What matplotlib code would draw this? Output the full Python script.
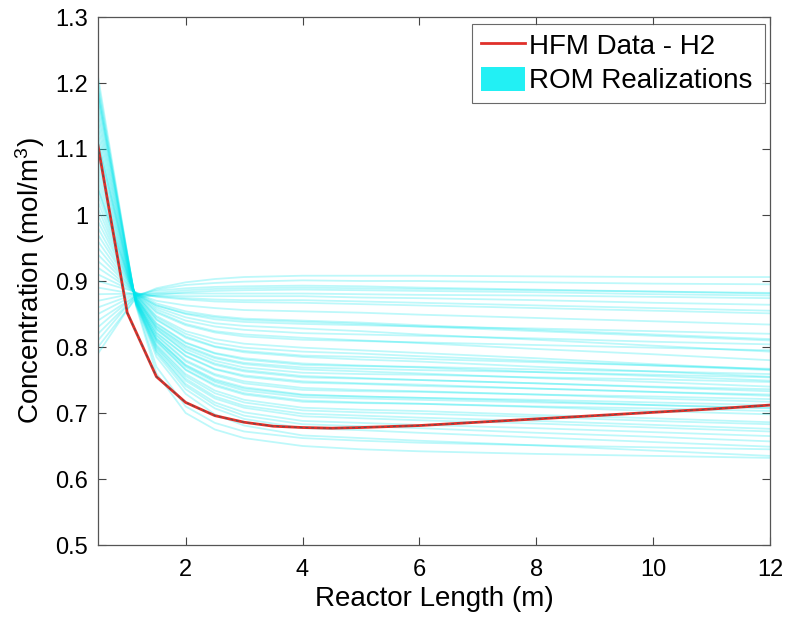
import matplotlib.pyplot as plt
from matplotlib.patches import Patch
from matplotlib.lines import Line2D

plt.rcParams['font.family'] = ['Liberation Sans', 'DejaVu Sans']
plt.rcParams['mathtext.default'] = 'regular'

# reactor positions (m)
x_hfm = [0.5, 1, 1.5, 2, 2.5, 3, 3.5, 4, 4.5, 5, 6, 7, 8, 9, 10, 11, 12]
# HFM H2 concentration
c_hfm = [1.105, 0.852, 0.755, 0.716, 0.696, 0.686, 0.680, 0.678, 0.677,
         0.678, 0.681, 0.686, 0.691, 0.696, 0.701, 0.706, 0.712]

# ROM realizations, sampled at these positions
x_rom = [0.5, 1.15, 1.5, 2, 2.5, 3, 4, 5, 6, 8, 10, 12]
rom_runs = [
    [0.79, 0.876, 0.889, 0.898, 0.903, 0.906, 0.908, 0.908, 0.908, 0.907, 0.906, 0.906],
    [0.81, 0.878, 0.887, 0.894, 0.897, 0.899, 0.901, 0.900, 0.900, 0.898, 0.896, 0.895],
    [0.83, 0.879, 0.885, 0.889, 0.891, 0.892, 0.893, 0.892, 0.890, 0.887, 0.884, 0.881],
    [0.80, 0.874, 0.879, 0.883, 0.885, 0.886, 0.887, 0.886, 0.885, 0.883, 0.880, 0.878],
    [0.85, 0.880, 0.881, 0.881, 0.881, 0.881, 0.881, 0.880, 0.879, 0.878, 0.876, 0.874],
    [0.84, 0.878, 0.878, 0.877, 0.877, 0.877, 0.877, 0.875, 0.874, 0.871, 0.867, 0.864],
    [0.87, 0.882, 0.876, 0.872, 0.869, 0.868, 0.867, 0.865, 0.863, 0.859, 0.855, 0.851],
    [0.88, 0.881, 0.870, 0.863, 0.859, 0.856, 0.854, 0.852, 0.849, 0.844, 0.839, 0.834],
    [0.90, 0.883, 0.866, 0.854, 0.847, 0.843, 0.840, 0.837, 0.833, 0.826, 0.819, 0.812],
    [0.92, 0.882, 0.860, 0.845, 0.836, 0.832, 0.828, 0.824, 0.819, 0.811, 0.802, 0.793],
    [0.89, 0.880, 0.863, 0.851, 0.845, 0.841, 0.838, 0.835, 0.831, 0.824, 0.817, 0.810],
    [0.94, 0.881, 0.854, 0.835, 0.824, 0.819, 0.814, 0.810, 0.806, 0.797, 0.789, 0.780],
    [0.96, 0.879, 0.847, 0.824, 0.812, 0.805, 0.799, 0.795, 0.791, 0.783, 0.774, 0.766],
    [0.98, 0.878, 0.841, 0.814, 0.800, 0.792, 0.785, 0.781, 0.778, 0.770, 0.763, 0.755],
    [0.97, 0.880, 0.845, 0.820, 0.806, 0.799, 0.793, 0.790, 0.786, 0.779, 0.772, 0.765],
    [1.00, 0.877, 0.836, 0.807, 0.791, 0.783, 0.775, 0.772, 0.769, 0.762, 0.756, 0.749],
    [1.02, 0.875, 0.831, 0.800, 0.783, 0.774, 0.766, 0.763, 0.760, 0.753, 0.747, 0.740],
    [0.99, 0.879, 0.842, 0.816, 0.801, 0.794, 0.787, 0.785, 0.782, 0.777, 0.772, 0.767],
    [1.04, 0.874, 0.827, 0.793, 0.775, 0.765, 0.756, 0.753, 0.750, 0.745, 0.739, 0.733],
    [1.06, 0.872, 0.822, 0.787, 0.767, 0.757, 0.748, 0.745, 0.743, 0.737, 0.732, 0.726],
    [1.05, 0.874, 0.826, 0.792, 0.773, 0.763, 0.754, 0.752, 0.750, 0.745, 0.740, 0.736],
    [1.08, 0.871, 0.818, 0.780, 0.759, 0.748, 0.738, 0.735, 0.733, 0.728, 0.722, 0.717],
    [1.10, 0.870, 0.813, 0.773, 0.751, 0.739, 0.728, 0.725, 0.723, 0.718, 0.712, 0.707],
    [1.12, 0.869, 0.809, 0.766, 0.743, 0.730, 0.719, 0.716, 0.714, 0.709, 0.703, 0.698],
    [1.11, 0.871, 0.813, 0.772, 0.749, 0.737, 0.727, 0.725, 0.723, 0.720, 0.716, 0.712],
    [1.14, 0.868, 0.804, 0.759, 0.734, 0.720, 0.708, 0.705, 0.703, 0.697, 0.692, 0.686],
    [1.16, 0.867, 0.800, 0.752, 0.725, 0.711, 0.699, 0.696, 0.693, 0.688, 0.682, 0.676],
    [1.18, 0.866, 0.795, 0.744, 0.716, 0.701, 0.688, 0.685, 0.682, 0.677, 0.671, 0.665],
    [1.19, 0.865, 0.790, 0.736, 0.707, 0.691, 0.677, 0.674, 0.670, 0.663, 0.656, 0.649],
    [1.20, 0.864, 0.785, 0.729, 0.698, 0.681, 0.666, 0.662, 0.658, 0.651, 0.643, 0.635],
    [1.17, 0.867, 0.798, 0.749, 0.722, 0.708, 0.695, 0.692, 0.689, 0.684, 0.678, 0.672],
    [1.13, 0.869, 0.808, 0.765, 0.741, 0.728, 0.717, 0.715, 0.714, 0.710, 0.707, 0.703],
    [1.07, 0.872, 0.821, 0.786, 0.766, 0.755, 0.746, 0.744, 0.741, 0.737, 0.732, 0.728],
    [1.03, 0.875, 0.832, 0.802, 0.785, 0.776, 0.769, 0.767, 0.765, 0.762, 0.758, 0.754],
    [0.95, 0.880, 0.852, 0.833, 0.822, 0.816, 0.811, 0.809, 0.807, 0.803, 0.799, 0.795],
    [0.86, 0.881, 0.877, 0.874, 0.872, 0.871, 0.871, 0.869, 0.867, 0.863, 0.859, 0.855],
    [0.82, 0.877, 0.882, 0.886, 0.888, 0.889, 0.890, 0.889, 0.888, 0.886, 0.884, 0.882],
    [1.09, 0.871, 0.817, 0.778, 0.757, 0.745, 0.735, 0.733, 0.732, 0.728, 0.725, 0.721],
    [1.01, 0.876, 0.835, 0.806, 0.790, 0.781, 0.773, 0.771, 0.770, 0.766, 0.763, 0.759],
    [0.93, 0.881, 0.857, 0.840, 0.831, 0.826, 0.821, 0.819, 0.817, 0.813, 0.808, 0.804],
    [1.15, 0.868, 0.802, 0.756, 0.730, 0.716, 0.704, 0.701, 0.699, 0.694, 0.688, 0.683],
    [1.19, 0.866, 0.793, 0.741, 0.712, 0.696, 0.683, 0.680, 0.677, 0.670, 0.664, 0.657],
    [1.04, 0.874, 0.829, 0.797, 0.779, 0.769, 0.761, 0.759, 0.758, 0.754, 0.751, 0.747],
    [0.91, 0.882, 0.863, 0.850, 0.842, 0.838, 0.835, 0.833, 0.831, 0.828, 0.824, 0.820],
    [1.11, 0.870, 0.811, 0.770, 0.747, 0.734, 0.724, 0.722, 0.720, 0.716, 0.712, 0.708],
    [1.21, 0.862, 0.760, 0.700, 0.675, 0.662, 0.650, 0.645, 0.642, 0.638, 0.635, 0.632],
    [1.18, 0.864, 0.770, 0.710, 0.685, 0.672, 0.662, 0.658, 0.655, 0.651, 0.648, 0.645],
]

x_ticks = [2, 4, 6, 8, 10, 12]
y_ticks = [0.5, 0.6, 0.7, 0.8, 0.9, 1.0, 1.1, 1.2, 1.3]
y_labels = ['0.5', '0.6', '0.7', '0.8', '0.9', '1', '1.1', '1.2', '1.3']

cyan = '#00e5ec'
red = '#e0302a'

fig = plt.figure(figsize=(7.9, 6.19), dpi=100)
ax = fig.add_axes([98 / 790, 1 - 545 / 619, 672 / 790, 528 / 619])

for run in rom_runs:
    ax.plot(x_rom, run, color=cyan, lw=1.3, alpha=0.26)

ax.plot(x_hfm, c_hfm, color=red, lw=2.0)
ax.plot(x_hfm, c_hfm, color='#555555', lw=0.7, ls=(0, (3, 3)))

ax.set_xlim(0.5, 12)
ax.set_ylim(0.5, 1.3)
ax.set_xticks(x_ticks)
ax.set_yticks(y_ticks)
ax.set_yticklabels(y_labels)
ax.tick_params(direction='in', length=6, width=0.8, top=True, right=True,
               labelsize=17, color='#444444')
ax.tick_params(axis='x', pad=10)
ax.tick_params(axis='y', pad=7)
for s in ax.spines.values():
    s.set_color('#555555')
    s.set_linewidth(0.9)

ax.set_xlabel('Reactor Length (m)', fontsize=20, labelpad=4)
ax.set_ylabel('Concentration (mol/m$^{3}$)', fontsize=20, labelpad=6)

handles = [Line2D([], [], color=red, lw=2),
           Patch(facecolor='#22f0f4', edgecolor='none')]
leg = ax.legend(handles, ['HFM Data - H2', 'ROM Realizations'], loc='upper left',
                bbox_to_anchor=(0.557, 0.5, 0.435, 0.487), mode='expand',
                borderaxespad=0, fontsize=20, frameon=True, fancybox=False,
                handlelength=1.6, handleheight=0.95, handletextpad=0.15,
                borderpad=0.3, labelspacing=0.25)
leg.get_frame().set_edgecolor('#444444')
leg.get_frame().set_linewidth(0.8)

fig.savefig('out.png', dpi=100)
